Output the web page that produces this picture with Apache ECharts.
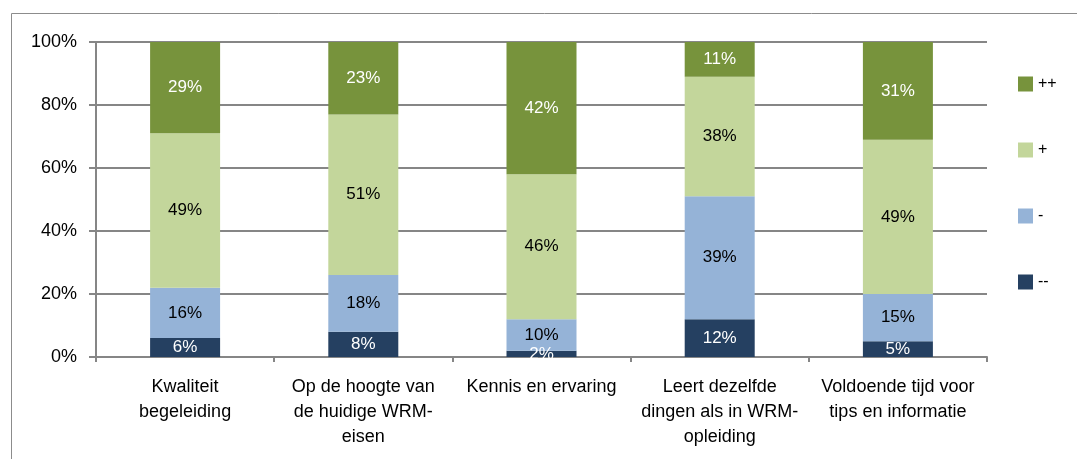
<!DOCTYPE html>
<html><head><meta charset="utf-8">
<script src="https://cdn.jsdelivr.net/npm/echarts@6/dist/echarts.min.js"></script>
<style>html,body{margin:0;padding:0;background:#fff}#c{width:1077px;height:459px}</style>
</head><body><div id="c"></div>
<script>
const categories = ["Kwaliteit\nbegeleiding", "Op de hoogte van\nde huidige WRM-\neisen", "Kennis en ervaring", "Leert dezelfde\ndingen als in WRM-\nopleiding", "Voldoende tijd voor\ntips en informatie"];
const minMin = [6, 8, 2, 12, 5];
const min = [16, 18, 10, 39, 15];
const plus = [49, 51, 46, 38, 49];
const plusPlus = [29, 23, 42, 11, 31];
const yTicks = [0, 20, 40, 60, 80, 100];

const font = "Liberation Sans";
function mk(name, data, color, labelColor) {
  return {
    name, type: 'bar', stack: 'all', data, barWidth: 70,
    itemStyle: { color },
    label: { show: true, position: 'inside', formatter: '{c}%', color: labelColor, fontFamily: font, fontSize: 17 },
    emphasis: { disabled: true }
  };
}
const chart = echarts.init(document.getElementById('c'));
chart.setOption({
  animation: false,
  graphic: [{ type: 'rect', shape: { x: 11.5, y: 13.5, width: 1200, height: 600 }, style: { fill: 'none', stroke: '#8c8c8c', lineWidth: 1 }, z: -1 }],
  grid: { left: 96, top: 42, right: 90, bottom: 102 },
  legend: {
    orient: 'vertical', left: 1013, top: 71, itemGap: 50, itemWidth: 15, itemHeight: 15,
    icon: 'rect', textStyle: { fontFamily: font, fontSize: 16, color: '#000' },
    data: ['++', '+', '-', '--']
  },
  xAxis: {
    type: 'category', data: categories,
    axisLine: { lineStyle: { color: '#868686', width: 2 } },
    axisTick: { show: true, length: 5, lineStyle: { color: '#868686', width: 2 } },
    axisLabel: { interval: 0, margin: 18, fontFamily: font, fontSize: 18, color: '#000', lineHeight: 25 }
  },
  yAxis: {
    type: 'value', min: yTicks[0], max: yTicks[yTicks.length - 1], interval: 20,
    axisLine: { show: true, lineStyle: { color: '#868686', width: 2 } },
    axisTick: { show: true, length: 7, lineStyle: { color: '#868686', width: 2 } },
    splitLine: { lineStyle: { color: '#868686', width: 2 } },
    axisLabel: { formatter: '{value}%', margin: 19, fontFamily: font, fontSize: 18, color: '#000' }
  },
  series: [
    mk('--', minMin, '#254061', '#fff'),
    mk('-', min, '#95B3D7', '#000'),
    mk('+', plus, '#C3D69B', '#000'),
    mk('++', plusPlus, '#77933C', '#fff')
  ]
});
</script></body></html>
